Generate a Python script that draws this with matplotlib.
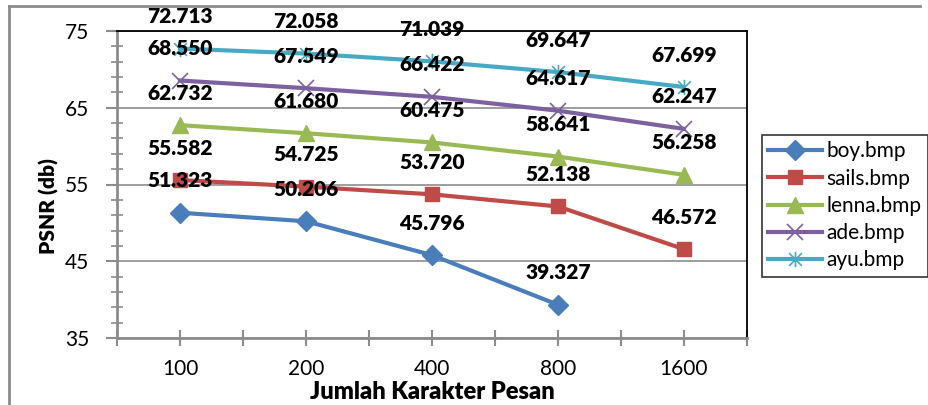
import matplotlib.pyplot as plt
from matplotlib.path import Path
from matplotlib.lines import Line2D

plt.rcParams['font.family'] = ['Lato', 'DejaVu Sans']

categories = ['100', '200', '400', '800', '1600']
boy = [51.323, 50.206, 45.796, 39.327]
sails = [55.582, 54.725, 53.720, 52.138, 46.572]
lenna = [62.732, 61.680, 60.475, 58.641, 56.258]
ade = [68.550, 67.549, 66.422, 64.617, 62.247]
ayu = [72.713, 72.058, 71.039, 69.647, 67.699]

star = Path([(-1, -1), (1, 1), (-1, 1), (1, -1), (0, -1.2), (0, 1.2)],
            [Path.MOVETO, Path.LINETO, Path.MOVETO, Path.LINETO, Path.MOVETO, Path.LINETO])

series = [
    ('boy.bmp', boy, '#4A7EBB', 'D', 10, 1),
    ('sails.bmp', sails, '#BE4B48', 's', 10, 1),
    ('lenna.bmp', lenna, '#98B954', '^', 11, 1),
    ('ade.bmp', ade, '#7D60A0', 'x', 11, 1.2),
    ('ayu.bmp', ayu, '#46AAC5', star, 11, 1.2),
]

fig = plt.figure(figsize=(9.29, 4.05), dpi=100)
ax = fig.add_axes([117 / 929, 1 - 338 / 405, (747 - 117) / 929, (338 - 31) / 405])

# outer chart border (top + left)
fig.add_artist(Line2D([9 / 929, 920 / 929], [1 - 6 / 405, 1 - 6 / 405], color='#8c8c8c', lw=2))
fig.add_artist(Line2D([9 / 929, 9 / 929], [0, 1 - 6 / 405], color='#8c8c8c', lw=2))

for name, vals, col, mk, ms, mew in series:
    x = list(range(len(vals)))
    ax.plot(x, vals, color=col, lw=3, marker=mk, markersize=ms, markeredgewidth=mew,
            markerfacecolor=col, markeredgecolor=col, label=name, zorder=3)
    for xi, v in zip(x, vals):
        ax.annotate(f"{v:.3f}", (xi, v), xytext=(0, 32), textcoords='offset pixels',
                    ha='center', va='center', fontsize=15, weight='heavy',
                    annotation_clip=False, zorder=4)

ax.set_xlim(-0.5, 4.5)
ax.set_ylim(35, 75)
ax.set_yticks([35, 45, 55, 65, 75])
ax.set_yticks(range(35, 76, 2), minor=True)
ax.set_xticks(range(5))
ax.set_xticklabels(categories)
ax.set_xticks([i - 0.5 for i in range(6)], minor=True)

ax.grid(axis='y', which='major', color='#8c8c8c', lw=1.2)
ax.set_axisbelow(True)

for s in ['left', 'bottom']:
    ax.spines[s].set_color('#8c8c8c')
    ax.spines[s].set_linewidth(2)
for s in ['top', 'right']:
    ax.spines[s].set_color('black')
    ax.spines[s].set_linewidth(1.3)

ax.tick_params(axis='y', which='major', direction='out', length=8, width=1.5, color='#8c8c8c',
               labelsize=15, pad=12)
ax.tick_params(axis='y', which='minor', direction='inout', length=8, width=1.2, color='#8c8c8c')
ax.tick_params(axis='x', which='both', direction='inout', length=12, width=1.5, color='#8c8c8c',
               labelsize=15, pad=9)

ax.set_xlabel('Jumlah Karakter Pesan', fontsize=17, weight='heavy')
ax.xaxis.set_label_coords(432 / 929, 1 - 392 / 405, transform=fig.transFigure)
ax.xaxis.label.set_va('center')
ax.set_ylabel('PSNR (db)', fontsize=15, weight='heavy')
ax.yaxis.set_label_coords(49 / 929, 1 - 206 / 405, transform=fig.transFigure)
ax.yaxis.label.set_va('center')

leg = ax.legend(loc='upper left', bbox_to_anchor=(762 / 929, 1 - 135 / 405), bbox_transform=fig.transFigure,
                fontsize=15, frameon=True, fancybox=False, edgecolor='black', borderaxespad=0,
                handlelength=2.6, handletextpad=0.2, labelspacing=0.35, borderpad=0.3)
leg.get_frame().set_linewidth(1.2)

fig.savefig('out.png', dpi=100)
